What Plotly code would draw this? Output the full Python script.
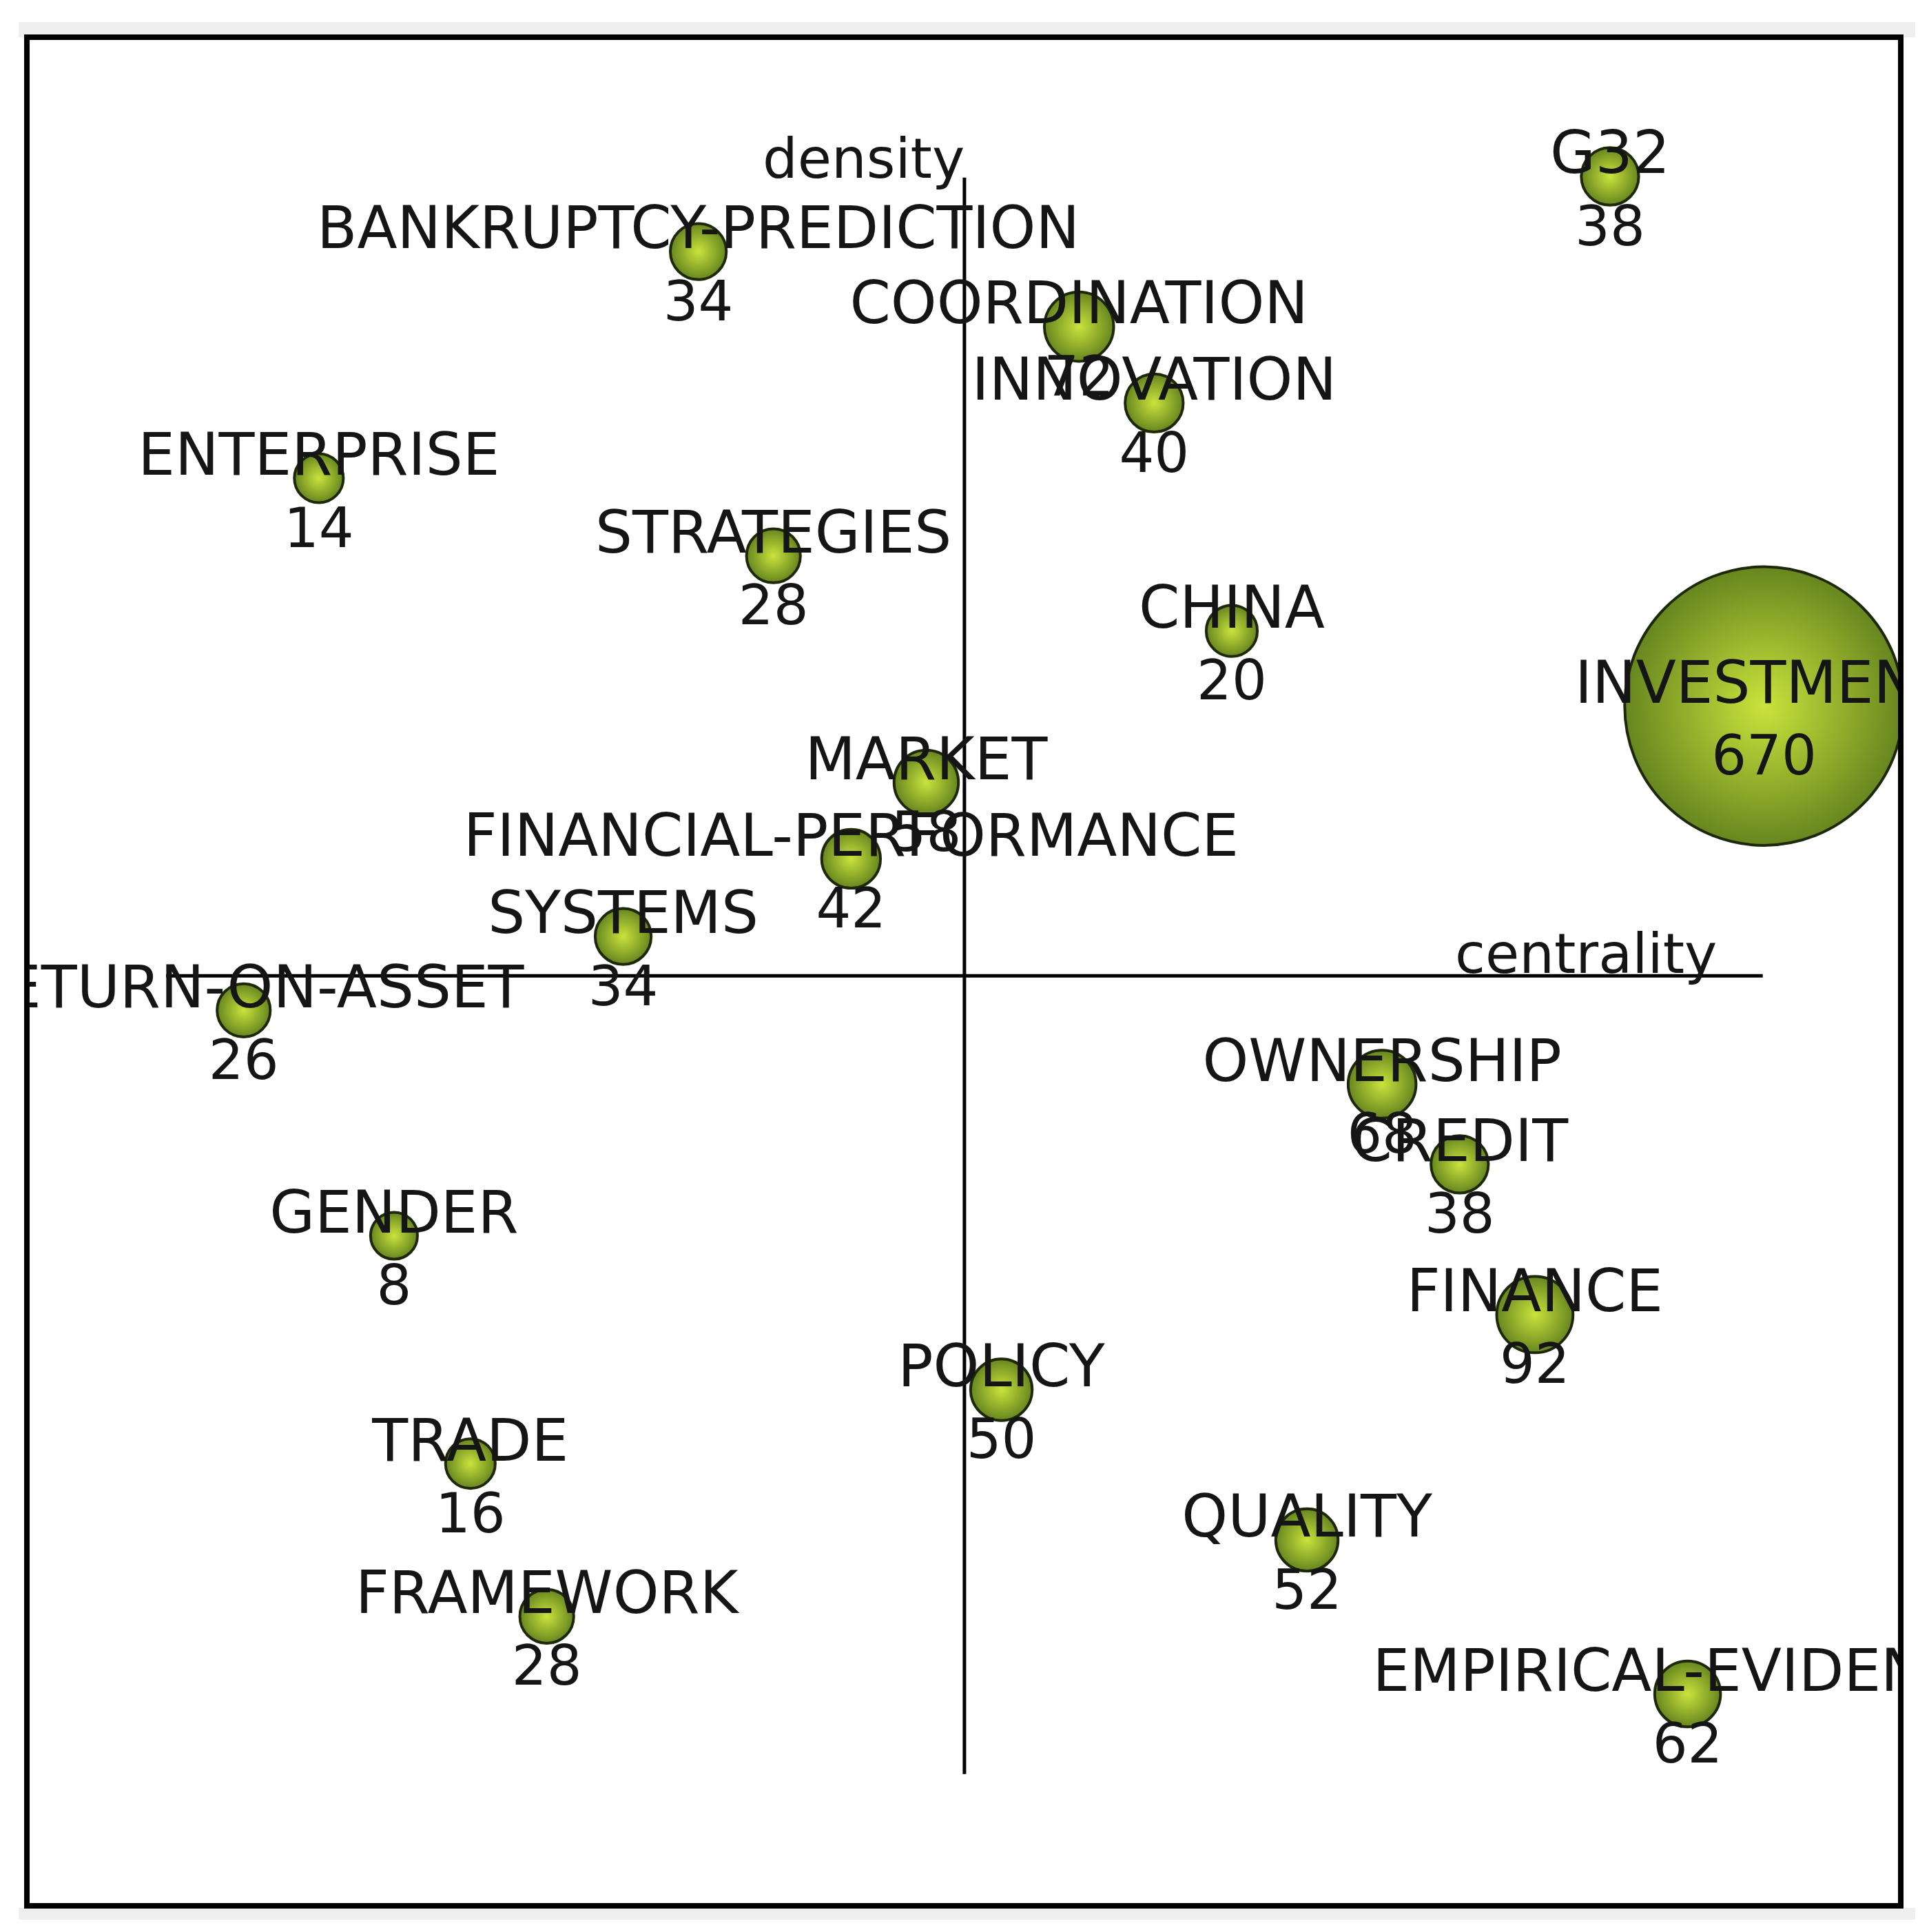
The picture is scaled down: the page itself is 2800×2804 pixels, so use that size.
import plotly.graph_objects as go

# ── Data (centrality / density positions) ──────────────────────────────────
themes = [
    "G32", "BANKRUPTCY-PREDICTION", "COORDINATION", "INNOVATION", "ENTERPRISE",
    "STRATEGIES", "CHINA", "INVESTMENT", "MARKET", "FINANCIAL-PERFORMANCE",
    "SYSTEMS", "RETURN-ON-ASSET", "OWNERSHIP", "CREDIT", "GENDER",
    "FINANCE", "POLICY", "TRADE", "QUALITY", "FRAMEWORK", "EMPIRICAL-EVIDENCE",
]
centrality = [
    52.4, -21.6, 9.3, 15.4, -52.4,
    -15.5, 21.7, 64.9, -3.1, -9.2,
    -27.7, -58.5, 33.9, 40.2, -46.3,
    46.3, 3.0, -40.1, 27.8, -33.9, 58.7,
]
density = [
    64.9, 58.8, 52.7, 46.5, 40.4,
    34.1, 28.0, 21.9, 15.7, 9.5,
    3.2, -2.8, -8.8, -15.3, -21.1,
    -27.5, -33.6, -39.6, -45.8, -52.0, -58.3,
]
documents = [
    38, 34, 72, 40, 14,
    28, 20, 670, 58, 42,
    34, 26, 68, 38, 8,
    92, 50, 16, 52, 28, 62,
]

# ── Style ──────────────────────────────────────────────────────────────────
W, H = 2800, 2804
PAGE_OFF = 8                      # default body margin of the html page
M_L, M_R, M_T, M_B = 31, 49, 46, 46
X_RANGE = [-76.1, 76.0]
Y_RANGE = [-75.5, 76.2]
AXIS_HALF = 64.8
FONT = "DejaVu Sans"
NAME_SIZE = 85
COUNT_SIZE = 80
TEXT_COLOR = "#151515"
BUBBLE_EDGE = "#67861f"
BUBBLE_CENTER = "#cae33c"
NAME_DY = 1.45     # label sits just above the node centre
COUNT_DY = -4.45   # count sits below the node centre

sizes = [2 * (32 + 0.254 * v) for v in documents]

fig = go.Figure()

fig.add_trace(go.Scatter(
    x=centrality,
    y=density,
    mode="markers",
    marker=dict(
        size=sizes,
        sizemode="diameter",
        color=BUBBLE_EDGE,
        gradient=dict(type="radial", color=BUBBLE_CENTER),
        line=dict(color="#1f280a", width=4),
        opacity=1,
    ),
    cliponaxis=True,
    hoverinfo="skip",
))

fig.add_trace(go.Scatter(
    x=centrality,
    y=[d + NAME_DY for d in density],
    mode="text",
    text=themes,
    textposition="middle center",
    textfont=dict(family=FONT, size=NAME_SIZE, color=TEXT_COLOR),
    cliponaxis=True,
    hoverinfo="skip",
))

fig.add_trace(go.Scatter(
    x=centrality,
    y=[d + COUNT_DY for d in density],
    mode="text",
    text=[str(v) for v in documents],
    textposition="middle center",
    textfont=dict(family=FONT, size=COUNT_SIZE, color=TEXT_COLOR),
    cliponaxis=True,
    hoverinfo="skip",
))

# strategic diagram axes
fig.add_shape(type="line", x0=-AXIS_HALF, x1=AXIS_HALF, y0=0, y1=0,
              line=dict(color="black", width=5), layer="below")
fig.add_shape(type="line", x0=0, x1=0, y0=-AXIS_HALF, y1=AXIS_HALF,
              line=dict(color="black", width=5), layer="below")

fig.add_annotation(x=0.1, y=66.3, text="density", showarrow=False,
                   xanchor="right", yanchor="middle",
                   font=dict(family=FONT, size=COUNT_SIZE, color=TEXT_COLOR))
fig.add_annotation(x=61.2, y=1.8, text="centrality", showarrow=False,
                   xanchor="right", yanchor="middle",
                   font=dict(family=FONT, size=COUNT_SIZE, color=TEXT_COLOR))

# window chrome: grey strips and the black frame
pw, ph = W - M_L - M_R, H - M_T - M_B


def px(x):
    return (x - PAGE_OFF - M_L) / pw


def py(y):
    return 1 - (y - PAGE_OFF - M_T) / ph


fig.add_shape(type="rect", xref="paper", yref="paper",
              x0=px(27), x1=px(2780), y0=py(54), y1=py(32),
              fillcolor="#efefef", line=dict(width=0), layer="below")
fig.add_shape(type="rect", xref="paper", yref="paper",
              x0=px(27), x1=px(2780), y0=py(2786), y1=py(2769),
              fillcolor="#efefef", line=dict(width=0), layer="below")
fig.add_shape(type="rect", xref="paper", yref="paper",
              x0=0, x1=1, y0=0, y1=1,
              line=dict(color="black", width=8), fillcolor="rgba(0,0,0,0)")

fig.update_layout(
    width=W,
    height=H,
    margin=dict(l=M_L, r=M_R, t=M_T, b=M_B),
    paper_bgcolor="white",
    plot_bgcolor="white",
    showlegend=False,
    xaxis=dict(range=X_RANGE, visible=False, fixedrange=True),
    yaxis=dict(range=Y_RANGE, visible=False, fixedrange=True),
)

fig.write_html("out.html")
